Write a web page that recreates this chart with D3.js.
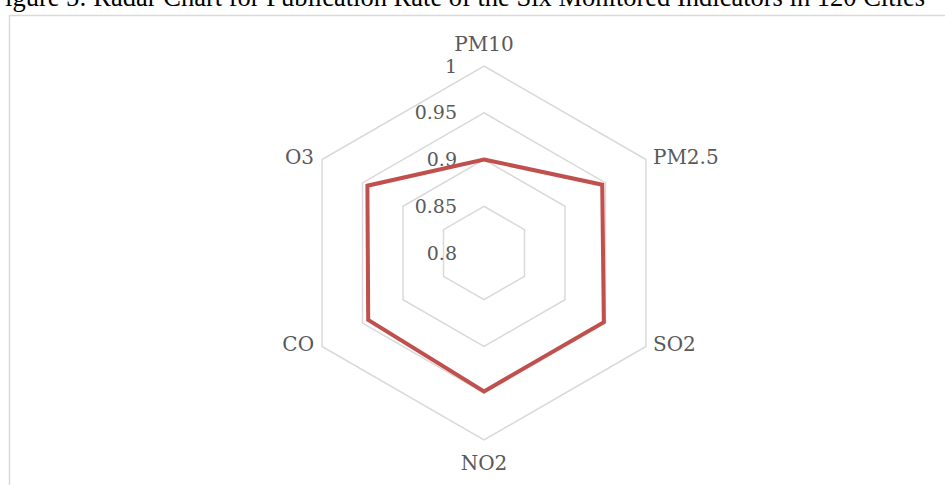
<!DOCTYPE html>
<html>
<head>
<meta charset="utf-8">
<script src="https://cdn.jsdelivr.net/npm/d3@7"></script>
<style>
  html, body { margin: 0; padding: 0; background: #fff; }
  svg { display: block; }
</style>
</head>
<body>
<svg id="chart" width="945" height="485"></svg>
<script>
// Publication rate per monitored indicator
const indicators = ["PM10", "PM2.5", "SO2", "NO2", "CO", "O3"];
const rates = [0.900, 0.946, 0.948, 0.948, 0.943, 0.944];
const ringTicks = [0.8, 0.85, 0.9, 0.95, 1];
const titleText = "Figure 5: Radar Chart for Publication Rate of the Six Monitored Indicators in 120 Cities";

const svg = d3.select("#chart");
const cx = 484, cy = 253, R = 187;

// frame of the chart area (only top and left edges fall inside the window)
svg.append("rect")
  .attr("x", 9.5).attr("y", 15.5)
  .attr("width", 1000).attr("height", 600)
  .attr("fill", "none").attr("stroke", "#d9d9d9").attr("stroke-width", 1.5);

// caption above the frame
svg.append("text")
  .attr("x", 925).attr("y", 6)
  .attr("text-anchor", "end")
  .attr("font-family", "Liberation Serif, Times New Roman, serif")
  .attr("font-size", 26.5)
  .attr("fill", "#000")
  .text(titleText);

const r = d3.scaleLinear().domain([0.8, 1]).range([0, R]);
const angle = d3.scaleLinear().domain([0, indicators.length]).range([0, 2 * Math.PI]);

const pt = (i, v) => {
  const a = angle(i);
  return [cx + r(v) * Math.sin(a), cy - r(v) * Math.cos(a)];
};

const closed = d3.line().curve(d3.curveLinearClosed);

// hexagonal grid rings
svg.append("g").selectAll("path")
  .data(ringTicks.filter(t => t > 0.8))
  .join("path")
  .attr("d", t => closed(indicators.map((_, i) => pt(i, t))))
  .attr("fill", "none")
  .attr("stroke", "#d9d9d9")
  .attr("stroke-width", 1.5);

// ring value labels along the vertical axis
svg.append("g").selectAll("text")
  .data(ringTicks)
  .join("text")
  .attr("x", cx - 27)
  .attr("y", t => cy - r(t))
  .attr("dy", "0.35em")
  .attr("text-anchor", "end")
  .attr("font-family", "DejaVu Serif, serif")
  .attr("font-size", 19)
  .attr("fill", "#595959")
  .text(t => d3.format("")(t));

// data polygon
svg.append("path")
  .attr("d", closed(rates.map((v, i) => pt(i, v))))
  .attr("fill", "none")
  .attr("stroke", "#c0504d")
  .attr("stroke-width", 4)
  .attr("stroke-linejoin", "miter");

// category labels around the outer ring
const labelPos = indicators.map((name, i) => {
  const [x, y] = pt(i, 1);
  const s = Math.sin(angle(i));
  let anchor = "middle", dx = 0, dy = 0;
  if (s > 0.1) { anchor = "start"; dx = 7; dy = -3; }
  else if (s < -0.1) { anchor = "end"; dx = -8; dy = -3; }
  else if (Math.cos(angle(i)) > 0) { dy = -22; }
  else { dy = 23; }
  return { name, x: x + dx, y: y + dy, anchor };
});

svg.append("g").selectAll("text")
  .data(labelPos)
  .join("text")
  .attr("x", d => d.x)
  .attr("y", d => d.y)
  .attr("dy", "0.35em")
  .attr("text-anchor", d => d.anchor)
  .attr("font-family", "DejaVu Serif, serif")
  .attr("font-size", 20)
  .attr("fill", "#595959")
  .text(d => d.name);
</script>
</body>
</html>
